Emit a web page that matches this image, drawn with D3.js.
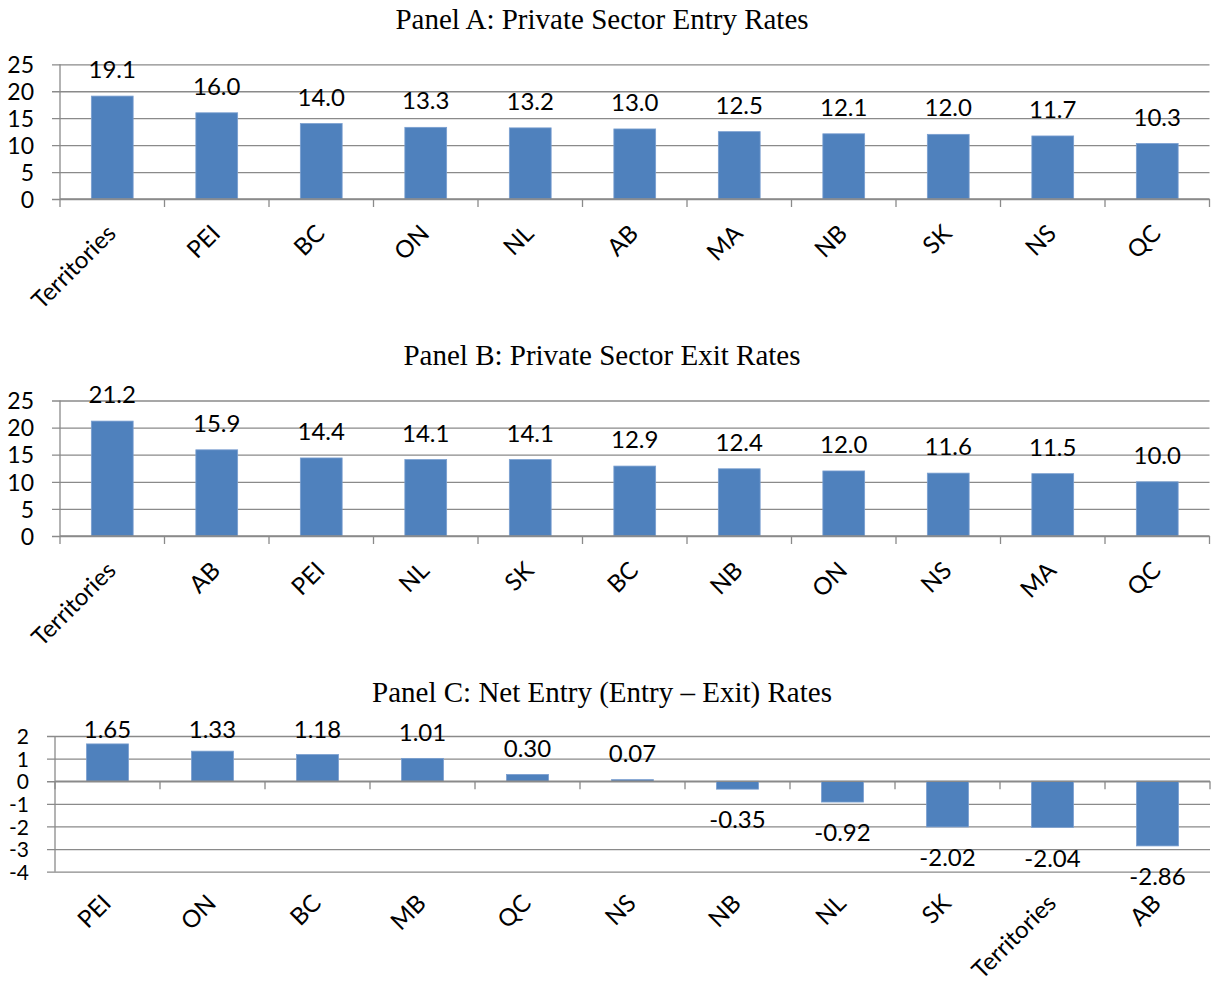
<!DOCTYPE html>
<html>
<head>
<meta charset="utf-8">
<script src="https://cdn.jsdelivr.net/npm/d3@7"></script>
<style>
  html, body { margin: 0; padding: 0; background: #fff; }
  svg { display: block; }
</style>
</head>
<body>
<svg id="chart" width="1214" height="984"></svg>
<script>
// ---- Data ----
const titleA = "Panel A: Private Sector Entry Rates";
const categoriesA = ["Territories", "PEI", "BC", "ON", "NL", "AB", "MA", "NB", "SK", "NS", "QC"];
const valuesA = [19.1, 16.0, 14.0, 13.3, 13.2, 13.0, 12.5, 12.1, 12.0, 11.7, 10.3];
const ticksA = [0, 5, 10, 15, 20, 25];

const titleB = "Panel B: Private Sector Exit Rates";
const categoriesB = ["Territories", "AB", "PEI", "NL", "SK", "BC", "NB", "ON", "NS", "MA", "QC"];
const valuesB = [21.2, 15.9, 14.4, 14.1, 14.1, 12.9, 12.4, 12.0, 11.6, 11.5, 10.0];
const ticksB = [0, 5, 10, 15, 20, 25];

const titleC = "Panel C: Net Entry (Entry \u2013 Exit) Rates";
const categoriesC = ["PEI", "ON", "BC", "MB", "QC", "NS", "NB", "NL", "SK", "Territories", "AB"];
const valuesC = [1.65, 1.33, 1.18, 1.01, 0.30, 0.07, -0.35, -0.92, -2.02, -2.04, -2.86];
const ticksC = [-4, -3, -2, -1, 0, 1, 2];

// ---- Styles ----
const BAR = "#4F81BD";
const GRID = "#8a8a8a";
const SANS = "Lato, 'Open Sans', sans-serif";
const SERIF = "'Liberation Serif', 'Times New Roman', serif";
const FS = 24;

const svg = d3.select("#chart");
const hy = f => (d => f(d).replace("\u2212", "-"));

function panel(cfg) {
  const g = svg.append("g");
  const x = d3.scaleBand().domain(cfg.categories).range([cfg.left, cfg.right]).paddingInner(0.6).paddingOuter(0.3);
  const xb = d3.scaleBand().domain(cfg.categories).range([cfg.left, cfg.right]).padding(0);
  const y = d3.scaleLinear().domain([cfg.ticks[0], cfg.ticks[cfg.ticks.length - 1]]).range([cfg.bottom, cfg.top]);

  // title
  g.append("text")
    .attr("x", 602).attr("y", cfg.titleY)
    .attr("text-anchor", "middle")
    .style("font-family", SERIF).style("font-size", "29px").attr("fill", "#000")
    .text(cfg.title);

  // gridlines with y-axis
  const yAxis = d3.axisLeft(y).tickValues(cfg.ticks).tickSize(-(cfg.right - cfg.left)).tickSizeOuter(0).tickPadding(0).tickFormat(hy(d3.format("d")));
  const ya = g.append("g").attr("transform", `translate(${cfg.left},0)`).call(yAxis);
  ya.select(".domain").remove();
  ya.selectAll(".tick line").attr("stroke", GRID).attr("stroke-width", 1.3).attr("x1", -8);
  ya.selectAll(".tick text")
    .attr("x", -cfg.labelGap)
    .attr("dy", "0.36em")
    .attr("fill", "#000")
    .style("font-family", SANS).style("font-size", cfg.tickFS + "px");

  // vertical axis line
  g.append("line")
    .attr("x1", cfg.left).attr("x2", cfg.left)
    .attr("y1", cfg.top).attr("y2", cfg.bottom)
    .attr("stroke", GRID).attr("stroke-width", 1.3);

  // bars
  const y0 = y(0);
  g.selectAll("rect.bar").data(cfg.values).enter().append("rect")
    .attr("class", "bar")
    .attr("x", (d, i) => x(cfg.categories[i]))
    .attr("width", x.bandwidth())
    .attr("y", d => Math.min(y(d), y0))
    .attr("height", d => Math.abs(y(d) - y0))
    .attr("fill", BAR)
    .attr("stroke", "#7a9fd0").attr("stroke-width", 0.8);

  // category axis at zero with boundary ticks
  g.append("line")
    .attr("x1", cfg.left).attr("x2", cfg.right)
    .attr("y1", y0).attr("y2", y0)
    .attr("stroke", GRID).attr("stroke-width", 1.3);
  const bounds = cfg.categories.map(c => xb(c)).concat([cfg.right]);
  g.selectAll("line.ctick").data(bounds).enter().append("line")
    .attr("class", "ctick")
    .attr("x1", d => d).attr("x2", d => d)
    .attr("y1", y0).attr("y2", y0 + 8)
    .attr("stroke", GRID).attr("stroke-width", 1.3);

  // data labels
  g.selectAll("text.dl").data(cfg.values).enter().append("text")
    .attr("class", "dl")
    .attr("x", (d, i) => x(cfg.categories[i]) + x.bandwidth() / 2)
    .attr("y", d => d >= 0 ? Math.max(y(d) - 26.5, cfg.top - 7) : y(d) + 30.5)
    .attr("dy", "0.36em")
    .attr("text-anchor", "middle")
    .attr("fill", "#000")
    .style("font-family", SANS).style("font-size", FS + "px")
    .text(hy(d3.format(cfg.fmt)));

  // category labels, rotated
  g.selectAll("text.cl").data(cfg.categories).enter().append("text")
    .attr("class", "cl")
    .attr("transform", c => `translate(${xb(c) + xb.bandwidth() / 2 + 5},${cfg.bottom + cfg.catOffset}) rotate(-45)`)
    .attr("text-anchor", "end")
    .attr("fill", "#000")
    .style("font-family", SANS).style("font-size", FS + "px")
    .text(c => c);
}

panel({ title: titleA, categories: categoriesA, values: valuesA, ticks: ticksA, fmt: ".1f", tickFS: 23,
        left: 60, right: 1209.5, top: 64.3, bottom: 199, titleY: 29, labelGap: 26, catOffset: 36 });
panel({ title: titleB, categories: categoriesB, values: valuesB, ticks: ticksB, fmt: ".1f", tickFS: 23,
        left: 60, right: 1209.5, top: 400.5, bottom: 536, titleY: 365, labelGap: 26, catOffset: 36 });
panel({ title: titleC, categories: categoriesC, values: valuesC, ticks: ticksC, fmt: ".2f", tickFS: 21,
        left: 55, right: 1210, top: 736, bottom: 871.7, titleY: 702, labelGap: 26, catOffset: 33 });
</script>
</body>
</html>
